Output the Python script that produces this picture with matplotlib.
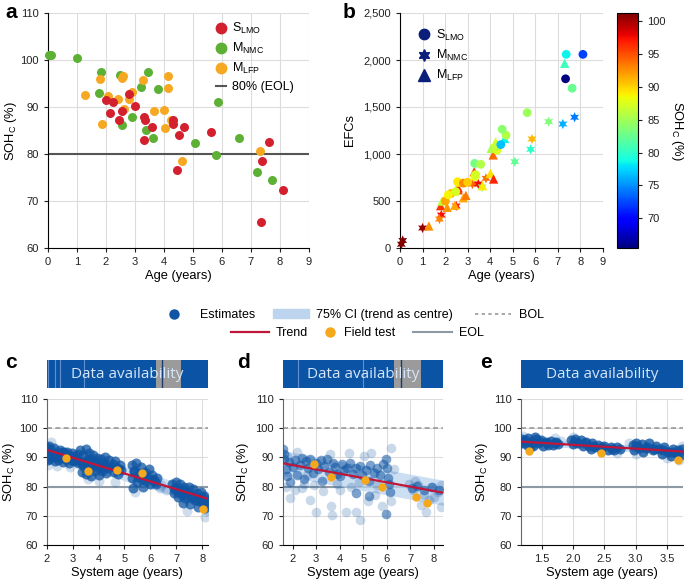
import numpy as np
import matplotlib
matplotlib.use("Agg")
import matplotlib.pyplot as plt
from matplotlib.lines import Line2D
from matplotlib.patches import Patch
from matplotlib.ticker import StrMethodFormatter

plt.rcParams['font.family'] = ['Liberation Sans', 'DejaVu Sans']
plt.rcParams['mathtext.default'] = 'regular'
plt.rcParams['font.size'] = 8

# ---------------- panel a / b data (age [yr], SOH_C [%], EFCs) ----------------
lmo_age = [2.01, 2.26, 2.14, 2.47, 2.55, 2.81, 3.00, 3.31, 3.35, 3.31, 3.58, 4.30, 4.30,
           4.70, 4.53, 4.47, 5.64, 7.63, 7.37, 8.11, 7.34]
lmo_soh = [91.6, 91.2, 88.7, 87.2, 89.1, 92.8, 90.3, 88.0, 87.2, 83.0, 85.7, 87.3, 86.5,
           85.7, 84.1, 76.7, 84.8, 82.5, 78.6, 72.3, 65.5]
lmo_efc = [500, 580, 565, 600, 705, 690, 700, 760, 780, 900, 890, 1040, 1080,
           1200, 1263, 1100, 1440, 1700, 2060, 2060, 1800]

nmc_age = [0.06, 0.12, 1.00, 1.83, 1.75, 2.49, 2.57, 2.92, 3.21, 3.47, 3.38, 3.64, 3.81,
           5.09, 5.85, 5.79, 6.59, 7.22, 7.74]
nmc_soh = [101.1, 101.2, 100.4, 97.4, 93.1, 96.9, 86.2, 87.9, 94.2, 97.6, 85.2, 83.4, 93.8,
           82.3, 91.0, 79.9, 83.5, 76.2, 74.4]
nmc_efc = [40, 80, 213, 351, 308, 447, 600, 690, 680, 681, 770, 650, 741,
           918, 1160, 1050, 1344, 1319, 1391]

lfp_age = [1.28, 1.80, 1.86, 2.09, 2.43, 2.58, 2.57, 2.63, 2.81, 2.92, 3.29, 3.66, 4.01,
           4.15, 4.13, 4.04, 4.24, 4.64, 7.30]
lfp_soh = [92.5, 96.0, 86.4, 92.3, 91.7, 96.7, 96.2, 89.6, 91.7, 93.3, 95.8, 89.2, 89.4,
           96.7, 94.0, 85.5, 87.2, 78.6, 80.7]
lfp_efc = [234, 450, 500, 433, 455, 640, 620, 700, 535, 560, 812, 663, 795,
           734, 990, 1060, 1130, 1165, 1965]

# ---------------- panel c (S_LMO system) ----------------
c_est_x = [2.00, 2.00, 2.05, 2.10, 2.10, 2.18, 2.22, 2.30, 2.32, 2.40, 2.45, 2.50, 2.55, 2.62,
           2.66, 2.72, 2.80, 2.85, 2.90, 2.98, 3.05, 3.10, 3.18, 3.22,
           2.04, 2.14, 2.26, 2.36, 2.48, 2.58, 2.70, 2.78, 2.94, 3.02, 3.14, 3.20,
           3.30, 3.32, 3.35, 3.40, 3.45, 3.50, 3.52, 3.58, 3.62, 3.65, 3.70, 3.75, 3.80, 3.85,
           3.90, 3.95, 4.00, 4.05, 4.10, 4.15, 4.20, 4.25, 4.30, 4.35, 4.40,
           3.38, 3.48, 3.56, 3.68, 3.78, 3.88, 3.98, 4.08, 4.18, 4.28, 4.38,
           4.55, 4.60, 4.65, 4.70, 4.75, 4.82, 4.88, 4.58, 4.78,
           5.28, 5.30, 5.32, 5.38, 5.45, 5.48, 5.55, 5.62, 5.68, 5.72, 5.80, 5.88, 5.95, 6.00,
           6.05, 6.12, 6.20, 6.25, 5.35, 5.52, 5.66, 5.84, 6.02, 6.16,
           6.85, 6.90, 6.95, 7.00, 7.05, 7.10, 7.15, 7.20, 7.25, 7.30, 7.35, 7.42, 7.48, 7.52,
           7.58, 7.65, 7.70, 7.78, 7.82, 7.90, 7.95, 8.02, 8.08, 8.12, 8.18,
           6.92, 7.08, 7.22, 7.38, 7.55, 7.72, 7.88, 8.05, 8.20]
c_est_y = [93.5, 90.5, 91.8, 94.0, 89.5, 92.5, 90.0, 93.2, 88.8, 91.5, 89.0, 92.6, 90.2, 88.4,
           91.8, 89.4, 92.0, 88.2, 90.4, 91.6, 88.8, 90.6, 89.0, 91.0,
           89.0, 91.2, 91.0, 90.0, 90.6, 91.8, 90.8, 90.4, 89.2, 90.2, 89.6, 88.0,
           92.6, 88.5, 85.0, 90.8, 86.8, 93.0, 84.2, 89.0, 91.5, 86.0, 83.8, 88.2, 90.8, 85.2,
           87.5, 89.8, 84.0, 86.8, 89.5, 85.5, 88.0, 90.0, 84.5, 87.0, 89.0,
           87.6, 88.8, 87.0, 89.6, 86.8, 88.6, 87.0, 86.4, 87.2, 86.6, 86.2,
           87.8, 85.0, 88.6, 86.2, 84.2, 87.5, 85.8, 86.8, 86.0,
           87.5, 83.0, 79.5, 85.5, 88.0, 81.5, 84.5, 86.8, 82.5, 80.0, 85.0, 83.0, 86.0, 81.0,
           84.0, 82.2, 80.8, 82.8, 85.2, 83.2, 84.2, 81.8, 82.6, 81.6,
           80.8, 77.8, 79.5, 81.5, 76.5, 79.0, 80.8, 77.2, 74.5, 79.8, 76.0, 78.2, 80.0, 74.0,
           77.0, 79.2, 75.5, 77.8, 73.0, 76.2, 78.0, 74.5, 76.8, 72.8, 75.0,
           79.2, 78.2, 78.8, 77.6, 76.2, 76.6, 75.0, 76.0, 73.6]
c_faint_x = [2.05, 2.40, 2.90, 2.15, 4.62, 5.40, 6.35, 7.40, 8.10, 3.60, 4.00, 6.40, 6.60, 8.20]
c_faint_y = [87.5, 87.2, 86.8, 95.2, 81.5, 78.0, 79.5, 71.5, 69.5, 82.5, 82.0, 80.5, 79.0, 71.5]
c_trend_x = [2.0, 8.22]
c_trend_y = [92.6, 75.8]
c_ci_lo = [90.1, 73.3]
c_ci_hi = [95.1, 78.3]
c_field_x = [2.75, 3.58, 4.70, 5.66, 8.03]
c_field_y = [89.9, 85.5, 85.7, 84.8, 72.3]
c_gap = [(6.21, 7.16)]
c_light_marks = [2.06, 2.32, 2.52, 3.42]
c_dark_marks = [6.43]

# ---------------- panel d (M_NMC system) ----------------
d_est_x = [1.60, 1.62, 1.65, 1.70, 1.75, 1.85, 1.90, 2.00, 2.10, 2.20, 2.30, 2.40, 2.50, 2.55,
           2.65, 2.75, 2.85, 3.00, 3.10, 3.20, 3.25, 3.35, 3.45, 3.55, 3.70, 3.80, 3.90, 4.00,
           4.10, 4.20, 4.30, 4.45, 4.55, 4.70, 4.85, 4.95, 5.10, 5.25, 5.30, 5.45, 5.60, 5.71,
           5.85, 5.95, 6.00, 6.05, 5.95, 5.24, 4.71, 6.10, 6.12, 7.05, 7.30, 7.60, 7.90, 8.20]
d_est_y = [93.0, 91.2, 89.5, 86.0, 83.5, 88.5, 81.5, 86.8, 89.2, 84.0, 87.5, 89.8, 82.6, 88.6,
           86.2, 89.4, 84.8, 88.0, 86.0, 89.0, 82.0, 87.2, 89.4, 85.0, 88.2, 86.6, 84.2, 83.8,
           87.8, 85.8, 86.3, 88.0, 84.4, 86.5, 86.9, 84.0, 85.6, 82.0, 87.5, 84.8, 86.5, 84.1,
           87.6, 89.3, 86.3, 83.0, 70.5, 76.8, 77.9, 81.0, 78.0, 79.5, 80.2, 78.8, 80.0, 79.0]
d_faint_x = [1.88, 2.73, 3.01, 3.64, 3.69, 4.26, 4.71, 4.85, 5.20, 5.34, 6.20, 5.05, 4.00, 3.30,
             2.40, 2.10, 2.90, 4.50, 5.50, 6.20, 5.80, 6.30, 7.10, 7.32, 7.60, 7.88, 8.17, 8.31,
             7.46, 7.67, 7.80, 8.00, 8.30, 7.20, 6.95, 1.75, 2.20, 3.60, 4.40, 2.60, 3.90, 4.80,
             5.60, 1.70, 2.50]
d_faint_y = [76.0, 75.5, 71.4, 73.2, 70.3, 71.2, 71.4, 68.6, 74.9, 91.4, 93.1, 90.5, 79.0, 78.5,
             79.5, 78.8, 80.5, 79.8, 77.0, 75.0, 73.5, 86.0, 78.8, 80.5, 77.1, 80.0, 78.2, 73.1,
             73.7, 71.4, 75.5, 76.5, 80.5, 82.0, 81.0, 90.5, 92.0, 91.0, 91.5, 84.0, 81.0, 81.5,
             80.5, 80.0, 81.0]
d_trend_x = [1.58, 8.40]
d_trend_y = [88.0, 77.9]
d_ci_lo = [83.7, 73.6]
d_ci_hi = [92.3, 82.2]
d_field_x = [2.92, 3.63, 5.07, 5.78, 7.23, 7.72]
d_field_y = [87.8, 83.2, 82.3, 79.8, 76.3, 74.5]
d_gap = [(6.32, 7.44)]
d_light_marks = [2.23, 5.00]
d_dark_marks = [6.59]

# ---------------- panel e (M_LFP system) ----------------
e_est_x = [1.17, 1.18, 1.22, 1.25, 1.28, 1.32, 1.36, 1.40, 1.44, 1.48, 1.52, 1.56, 1.60, 1.64,
           1.68, 1.72, 1.76, 1.38, 1.30, 1.20, 1.34, 1.46, 1.58, 1.70,
           1.97, 1.99, 2.03, 2.07, 2.12, 2.15, 2.20, 2.25, 2.30, 2.35, 2.40, 2.45, 2.50, 2.55,
           2.60, 2.65, 2.70, 2.75, 2.28, 2.02, 2.18, 2.32, 2.46, 2.62,
           2.95, 2.97, 3.00, 3.05, 3.10, 3.12, 3.18, 3.22, 3.28, 3.32, 3.38, 3.42, 3.46, 3.52,
           3.56, 3.60, 3.64, 3.68, 3.72, 3.74, 3.02, 3.16, 3.30, 3.44, 3.58, 3.70]
e_est_y = [96.2, 94.8, 95.8, 94.2, 96.6, 95.2, 93.8, 96.2, 94.8, 95.8, 94.0, 95.4, 94.4, 95.6,
           94.2, 95.2, 94.6, 97.0, 93.6, 95.4, 95.2, 95.2, 94.8, 94.8,
           95.8, 94.6, 96.3, 95.0, 95.8, 94.0, 95.2, 93.8, 94.8, 93.4, 94.4, 92.8, 93.8, 92.6,
           93.6, 92.4, 93.4, 93.0, 92.8, 95.2, 94.8, 94.0, 93.6, 93.0,
           94.2, 92.6, 95.0, 93.2, 94.6, 91.8, 93.6, 95.0, 92.4, 94.0, 92.8, 91.2, 93.4, 92.0,
           90.6, 93.0, 91.4, 92.6, 90.8, 92.8, 93.8, 93.2, 93.0, 92.4, 91.8, 91.6]
e_faint_x = [1.20, 1.70, 2.00, 2.70, 3.00, 3.50, 3.70, 3.75, 1.80, 2.90]
e_faint_y = [97.4, 96.5, 97.0, 91.5, 91.0, 89.8, 89.0, 94.0, 95.5, 95.0]
e_trend_x = [1.16, 3.76]
e_trend_y = [95.4, 92.0]
e_ci_lo = [94.3, 90.9]
e_ci_hi = [96.5, 93.1]
e_field_x = [1.29, 2.45, 3.68]
e_field_y = [92.3, 91.6, 89.0]

# ---------------- styles ----------------
RED, GREEN, ORANGE = '#d2202f', '#5cb034', '#f7a823'
BLUE = '#0f55a3'
TREND = '#c0163a'
FIELD = '#f5a81c'
CI = '#bcd4ee'
GRID = '#dcdcdc'
EOLC = '#8d9aa5'
BOLC = '#9a9a9a'
NAVY = '#0b1f7a'
LAB = 9.3

W, H = 685, 580
fig = plt.figure(figsize=(6.85, 5.8), dpi=100)


def box(x0, y0, x1, y1):
    return [x0 / W, 1 - y1 / H, (x1 - x0) / W, (y1 - y0) / H]


def style(ax):
    for s in ('top', 'right'):
        ax.spines[s].set_visible(False)
    ax.tick_params(direction='out', length=3, width=0.8, colors='#222', labelsize=8)
    ax.grid(True, color=GRID, lw=0.8)
    ax.set_axisbelow(True)


# ---- a ----
ax = fig.add_axes(box(47.7, 13.3, 309, 248))
style(ax)
ax.axhline(80, color='#555555', lw=1.5, zorder=1)
ax.scatter(nmc_age, nmc_soh, s=42, color=GREEN, lw=0, zorder=3, clip_on=False)
ax.scatter(lfp_age, lfp_soh, s=42, color=ORANGE, lw=0, zorder=3, clip_on=False)
ax.scatter(lmo_age, lmo_soh, s=42, color=RED, lw=0, zorder=3, clip_on=False)
ax.set_xlim(0, 9); ax.set_ylim(60, 110)
ax.set_xticks(range(0, 10)); ax.set_yticks(range(60, 111, 10))
ax.set_xlabel('Age (years)', fontsize=LAB)
ax.set_ylabel('SOH$_C$ (%)', fontsize=LAB, va='center')
ax.yaxis.set_label_coords(-0.14, 0.5)
ax.xaxis.set_label_coords(0.5, -0.095)
h = [Line2D([], [], marker='o', ls='', color=c, ms=7.5) for c in (RED, GREEN, ORANGE)]
h.append(Line2D([], [], color='#555555', lw=1.5))
ax.legend(h, ['S$_{LMO}$', 'M$_{NMC}$', 'M$_{LFP}$', '80% (EOL)'], loc='upper right',
          frameon=False, fontsize=9, handlelength=0.8, handletextpad=0.5,
          labelspacing=0.4, bbox_to_anchor=(0.985, 1.015))
fig.text(5 / W, 1 - 13 / H, 'a', fontsize=15, fontweight='heavy', va='center')

# ---- b ----
ax = fig.add_axes(box(400, 13, 603, 248))
style(ax)
vmin, vmax = 65.5, 101.2
kw = dict(cmap='jet', vmin=vmin, vmax=vmax, lw=0, zorder=3, clip_on=False)
ax.scatter(nmc_age, nmc_efc, c=nmc_soh, marker=(6, 1, 0), s=55, **kw)
ax.scatter(lfp_age, lfp_efc, c=lfp_soh, marker='^', s=45, **kw)
sc = ax.scatter(lmo_age, lmo_efc, c=lmo_soh, marker='o', s=40, **kw)
ax.set_xlim(0, 9); ax.set_ylim(0, 2500)
ax.set_xticks(range(0, 10)); ax.set_yticks(range(0, 2501, 500))
ax.yaxis.set_major_formatter(StrMethodFormatter('{x:,.0f}'))
ax.set_xlabel('Age (years)', fontsize=LAB)
ax.set_ylabel('EFCs', fontsize=LAB, va='center')
ax.yaxis.set_label_coords(-0.245, 0.5)
ax.xaxis.set_label_coords(0.5, -0.095)
h = [Line2D([], [], marker='o', ls='', color=NAVY, ms=7.5),
     Line2D([], [], marker=(6, 1, 0), ls='', color=NAVY, ms=8.5),
     Line2D([], [], marker='^', ls='', color=NAVY, ms=8)]
ax.legend(h, ['S$_{LMO}$', 'M$_{NMC}$', 'M$_{LFP}$'], loc='upper left', frameon=False,
          fontsize=9, handlelength=1.0, handletextpad=0.5, labelspacing=0.4,
          bbox_to_anchor=(0.03, 0.985))
cax = fig.add_axes(box(617, 13, 638, 248))
cb = fig.colorbar(sc, cax=cax)
cb.set_ticks(range(70, 101, 5))
cb.outline.set_linewidth(0.8)
cax.tick_params(length=3, width=0.8, labelsize=8, colors='#222')
cax.set_ylabel('SOH$_C$ (%)', rotation=270, fontsize=LAB, va='center')
cax.yaxis.set_label_coords(2.85, 0.5)
fig.text(343 / W, 1 - 13 / H, 'b', fontsize=15, fontweight='heavy', va='center')


# ---- c, d, e ----
def panel(x0, x1, xlim, xticks, est, faint, trend, ci, field, gaps, lmarks, dmarks,
          letter, lx, ylx, fmt=None, a_est=0.55, a_faint=0.2, s_est=48):
    bar = fig.add_axes(box(x0, 360, x1, 388))
    bar.set_xlim(*xlim); bar.set_ylim(0, 1)
    bar.axis('off')
    bar.axvspan(xlim[0], xlim[1], color='#0b54a5', lw=0)
    for g0, g1 in gaps:
        bar.axvspan(g0, g1, color='#9b9b9b', lw=0)
    for m in lmarks:
        bar.axvline(m, color='#5f8fd0', lw=0.8)
    for m in dmarks:
        bar.axvline(m, color='#1c3c6c', lw=1.0)
    bar.text(0.5, 0.5, 'Data availability', transform=bar.transAxes, ha='center',
             va='center', color='#d6e5f7', fontsize=11, family=['Open Sans', 'DejaVu Sans'])

    ax = fig.add_axes(box(x0, 399, x1, 545))
    style(ax)
    ax.spines['left'].set_color('#666')
    ax.axhline(100, color=BOLC, lw=1.2, ls=(0, (3, 2)), zorder=1)
    ax.axhline(80, color=EOLC, lw=1.5, zorder=1)
    ax.fill_between(trend[0], ci[0], ci[1], color=CI, alpha=0.75, lw=0, zorder=2)
    ax.scatter(faint[0], faint[1], s=s_est, color=BLUE, alpha=a_faint, lw=0, zorder=3)
    ax.scatter(est[0], est[1], s=s_est, color=BLUE, alpha=a_est, lw=0, zorder=3)
    ax.plot(trend[0], trend[1], color=TREND, lw=1.6, zorder=4)
    ax.scatter(field[0], field[1], s=36, color=FIELD, lw=0, zorder=5)
    ax.set_xlim(*xlim); ax.set_ylim(60, 110)
    ax.set_xticks(xticks); ax.set_yticks(range(60, 111, 10))
    if fmt:
        ax.xaxis.set_major_formatter(StrMethodFormatter(fmt))
    ax.set_xlabel('System age (years)', fontsize=LAB)
    ax.set_ylabel('SOH$_C$ (%)', fontsize=LAB, va='center')
    ax.yaxis.set_label_coords(ylx, 0.5)
    ax.xaxis.set_label_coords(0.5, -0.15)
    fig.text(lx / W, 1 - 362 / H, letter, fontsize=15, fontweight='heavy', va='center')


panel(46.7, 208, (2.0, 8.22), range(2, 9), (c_est_x, c_est_y), (c_faint_x, c_faint_y),
      (c_trend_x, c_trend_y), (c_ci_lo, c_ci_hi), (c_field_x, c_field_y),
      c_gap, c_light_marks, c_dark_marks, 'c', 5, -0.235, a_est=0.75, s_est=52)
panel(282.7, 443.3, (1.58, 8.4), range(2, 9), (d_est_x, d_est_y), (d_faint_x, d_faint_y),
      (d_trend_x, d_trend_y), (d_ci_lo, d_ci_hi), (d_field_x, d_field_y),
      d_gap, d_light_marks, d_dark_marks, 'd', 237, -0.245, a_est=0.55, a_faint=0.22)
panel(521, 683, (1.16, 3.76), [1.5, 2.0, 2.5, 3.0, 3.5], (e_est_x, e_est_y),
      (e_faint_x, e_faint_y), (e_trend_x, e_trend_y), (e_ci_lo, e_ci_hi),
      (e_field_x, e_field_y), [], [], [], 'e', 480, -0.24, fmt='{x:.1f}', a_est=0.8,
      s_est=52)

# ---- shared legend: one small legend per entry, two rows ----
entries = [
    (Line2D([], [], marker='o', ls='', color=BLUE, ms=6.5), 'Estimates', 155, 315, 3.0),
    (Patch(color=CI), '75% CI (trend as centre)', 272.7, 315, 2.9),
    (Line2D([], [], color=BOLC, lw=1.2, ls=(0, (2, 2))), 'BOL', 475, 315, 2.9),
    (Line2D([], [], color=TREND, lw=1.6), 'Trend', 231, 333, 3.0),
    (Line2D([], [], marker='o', ls='', color=FIELD, ms=6.5), 'Field test', 324, 333, 1.0),
    (Line2D([], [], color=EOLC, lw=1.5), 'EOL', 413, 333, 3.1),
]
for hnd, lab, lx0, ly, hl in entries:
    fig.legend([hnd], [lab], loc='center left', bbox_to_anchor=(lx0 / W, 1 - ly / H),
               frameon=False, fontsize=9, handlelength=hl, handletextpad=0.6,
               borderpad=0, borderaxespad=0)

fig.savefig('out.png', dpi=100)
